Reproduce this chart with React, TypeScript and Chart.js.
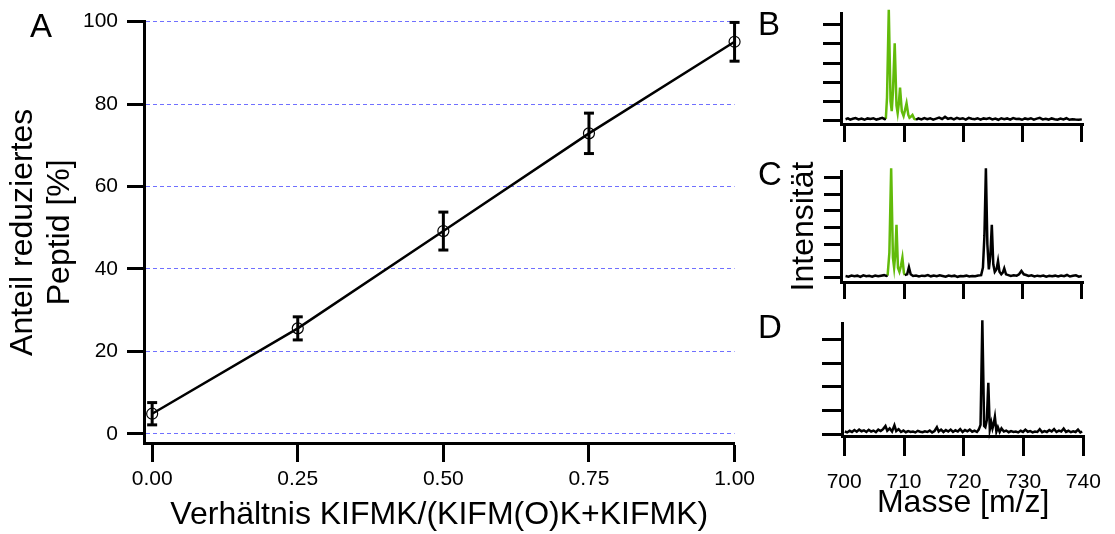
import React, { useEffect, useRef } from 'react';
import { Chart, registerables } from 'chart.js';

Chart.register(...registerables);

const FONT = "'Liberation Sans', Arial, Helvetica, sans-serif";
const GREEN = '#62bb0a';
const GRID_BLUE = '#7070ff';

// ---------- Panel A ----------
const RATIO = [0, 0.25, 0.5, 0.75, 1.0];
const REDUCED = [4.9, 25.6, 49.2, 72.9, 95.1];
const ERROR = [2.7, 2.8, 4.6, 4.9, 4.7];
const A_X_TICKS = [0, 0.25, 0.5, 0.75, 1.0];
const A_Y_TICKS = [0, 20, 40, 60, 80, 100];

// ---------- Spectra (m/z axis) ----------
const MZ_TICKS = [700, 710, 720, 730, 740];
const B_Y_TICKS = [0, 1, 2, 3, 4, 5];
const C_Y_TICKS = [0, 1, 2, 3, 4, 5, 6];
const D_Y_TICKS = [0, 1, 2, 3, 4];

// B: reduced peptide only
const B_BLACK1_MZ = [700.1, 700.5, 700.9, 701.3, 701.8, 702.3, 702.8, 703.3, 703.8, 704.3, 704.8, 705.3, 705.8, 706.3, 706.7, 706.9];
const B_BLACK1_INT = [0.08, 0.12, 0.06, 0.1, 0.14, 0.07, 0.11, 0.05, 0.12, 0.09, 0.13, 0.06, 0.1, 0.15, 0.08, 0.1];
const B_GREEN_MZ = [706.9, 707.1, 707.4, 707.7, 707.9, 708.1, 708.4, 708.7, 708.9, 709.1, 709.3, 709.6, 709.9, 710.1, 710.4, 710.7, 710.9, 711.1, 711.4, 711.7, 712.0];
const B_GREEN_INT = [0.1, 1.2, 5.77, 1.0, 0.5, 1.5, 4.03, 0.8, 0.4, 0.9, 1.72, 0.5, 0.25, 0.5, 0.91, 0.3, 0.15, 0.2, 0.3, 0.1, 0.05];
const B_BLACK2_MZ = [712.0, 712.4, 712.9, 713.4, 713.9, 714.4, 714.9, 715.4, 715.9, 716.4, 716.9, 717.4, 717.9, 718.4, 718.9, 719.4, 719.9, 720.4, 720.9, 721.4, 721.9, 722.4, 722.9, 723.4, 723.9, 724.4, 724.9, 725.4, 725.9, 726.4, 726.9, 727.4, 727.9, 728.4, 728.9, 729.4, 729.9, 730.4, 730.9, 731.4, 731.9, 732.4, 732.9, 733.4, 733.9, 734.4, 734.9, 735.4, 735.9, 736.4, 736.9, 737.4, 737.9, 738.4, 738.9, 739.5, 740.0];
const B_BLACK2_INT = [0.05, 0.12, 0.07, 0.14, 0.08, 0.13, 0.06, 0.11, 0.16, 0.09, 0.2, 0.1, 0.14, 0.07, 0.15, 0.09, 0.13, 0.06, 0.15, 0.1, 0.08, 0.13, 0.06, 0.12, 0.09, 0.14, 0.07, 0.11, 0.05, 0.13, 0.08, 0.12, 0.06, 0.14, 0.09, 0.1, 0.05, 0.12, 0.08, 0.13, 0.06, 0.11, 0.15, 0.07, 0.1, 0.06, 0.12, 0.08, 0.05, 0.11, 0.07, 0.13, 0.05, 0.08, 0.06, 0.05, 0.07];

// C: mixture
const C_BLACK1_MZ = [700.1, 700.6, 701.1, 701.6, 702.1, 702.6, 703.1, 703.6, 704.1, 704.6, 705.1, 705.6, 706.1, 706.6, 707.0, 707.2];
const C_BLACK1_INT = [0.1, 0.06, 0.13, 0.08, 0.12, 0.05, 0.14, 0.09, 0.11, 0.06, 0.13, 0.08, 0.12, 0.15, 0.1, 0.12];
const C_GREEN_MZ = [707.2, 707.5, 707.8, 708.1, 708.3, 708.5, 708.7, 708.95, 709.2, 709.45, 709.7, 709.95, 710.1];
const C_GREEN_INT = [0.12, 1.5, 6.55, 1.2, 0.6, 1.4, 3.16, 0.6, 0.35, 0.7, 1.2, 0.3, 0.15];
const C_BLACK2_MZ = [710.1, 710.5, 710.8, 711.1, 711.5, 712.0, 712.5, 713.0, 713.5, 714.0, 714.5, 715.0, 715.5, 716.0, 716.5, 717.0, 717.5, 718.0, 718.5, 719.0, 719.5, 720.0, 720.5, 721.0, 721.5, 722.0, 722.5, 723.0, 723.3, 723.55, 723.8, 724.05, 724.3, 724.55, 724.8, 725.05, 725.3, 725.6, 725.85, 726.1, 726.4, 726.65, 726.9, 727.2, 727.6, 728.0, 728.5, 729.0, 729.4, 729.8, 730.2, 730.6, 731.0, 731.5, 732.0, 732.5, 733.0, 733.5, 734.0, 734.5, 735.0, 735.5, 736.0, 736.5, 737.0, 737.5, 738.0, 738.5, 739.0, 739.5, 740.0];
const C_BLACK2_INT = [0.15, 0.2, 0.63, 0.2, 0.1, 0.13, 0.07, 0.12, 0.1, 0.15, 0.08, 0.13, 0.09, 0.14, 0.1, 0.06, 0.13, 0.08, 0.12, 0.05, 0.1, 0.08, 0.12, 0.07, 0.1, 0.09, 0.13, 0.15, 0.6, 2.5, 6.55, 2.0, 0.5, 1.3, 3.16, 0.8, 0.35, 0.5, 1.0, 0.35, 0.2, 0.3, 0.56, 0.2, 0.15, 0.1, 0.14, 0.12, 0.2, 0.4, 0.2, 0.16, 0.1, 0.14, 0.07, 0.12, 0.09, 0.13, 0.06, 0.11, 0.08, 0.12, 0.07, 0.13, 0.09, 0.16, 0.07, 0.11, 0.14, 0.06, 0.1];

// D: oxidised peptide only
const D_BLACK_MZ = [700.1, 700.5, 700.9, 701.3, 701.7, 702.1, 702.5, 702.9, 703.3, 703.7, 704.1, 704.5, 704.9, 705.3, 705.7, 706.1, 706.5, 706.9, 707.2, 707.6, 708.0, 708.4, 708.7, 709.1, 709.5, 709.9, 710.3, 710.7, 711.1, 711.5, 711.9, 712.3, 712.7, 713.1, 713.5, 713.9, 714.3, 714.7, 715.1, 715.5, 715.8, 716.2, 716.6, 717.0, 717.4, 717.8, 718.2, 718.6, 719.0, 719.4, 719.8, 720.2, 720.6, 721.0, 721.4, 721.8, 722.2, 722.5, 722.8, 723.1, 723.4, 723.6, 723.85, 724.1, 724.35, 724.6, 724.8, 725.0, 725.2, 725.45, 725.7, 726.0, 726.3, 726.7, 727.1, 727.5, 727.9, 728.3, 728.7, 729.1, 729.5, 729.9, 730.3, 730.7, 731.1, 731.5, 731.9, 732.3, 732.7, 733.1, 733.5, 733.9, 734.3, 734.7, 735.1, 735.5, 735.9, 736.3, 736.7, 737.1, 737.5, 737.9, 738.3, 738.7, 739.1, 739.5, 739.8];
const D_BLACK_INT = [0.12, 0.08, 0.15, 0.1, 0.18, 0.11, 0.2, 0.13, 0.17, 0.1, 0.19, 0.12, 0.16, 0.09, 0.2, 0.14, 0.22, 0.35, 0.15, 0.25, 0.12, 0.38, 0.14, 0.22, 0.1, 0.16, 0.09, 0.14, 0.1, 0.12, 0.08, 0.15, 0.11, 0.09, 0.13, 0.1, 0.16, 0.08, 0.14, 0.3, 0.12, 0.2, 0.1, 0.18, 0.12, 0.2, 0.1, 0.17, 0.12, 0.22, 0.1, 0.18, 0.13, 0.2, 0.11, 0.16, 0.1, 0.2, 0.4, 4.82, 0.35, 0.3, 0.6, 2.18, 0.2, 0.5, 0.25, 0.45, 0.74, 0.12, 0.3, 0.1, 0.25, 0.12, 0.16, 0.09, 0.14, 0.1, 0.12, 0.08, 0.15, 0.1, 0.2, 0.11, 0.14, 0.08, 0.12, 0.1, 0.22, 0.09, 0.14, 0.1, 0.18, 0.12, 0.22, 0.1, 0.16, 0.12, 0.24, 0.1, 0.15, 0.09, 0.13, 0.1, 0.2, 0.08, 0.12];

const pts = (xs: number[], ys: number[]) => xs.map((x, i) => ({ x, y: ys[i] }));
const fixTicks = (vals: number[]) => (s: any) => {
  s.ticks = vals.map((v) => ({ value: v }));
};

function mainConfig(): any {
  const errorSets = RATIO.map((r, i) => ({
    type: 'line',
    data: [
      { x: r, y: REDUCED[i] - ERROR[i] },
      { x: r, y: REDUCED[i] + ERROR[i] },
    ],
    borderColor: '#000',
    borderWidth: 3,
    pointStyle: 'line',
    pointRadius: 5,
    pointBorderWidth: 3,
    pointBorderColor: '#000',
    clip: false,
  }));
  return {
    type: 'line',
    data: {
      datasets: [
        {
          data: pts(RATIO, REDUCED),
          borderColor: '#000',
          borderWidth: 2.5,
          pointStyle: 'circle',
          pointRadius: 5.5,
          pointBorderWidth: 1.2,
          pointBorderColor: '#000',
          pointBackgroundColor: 'rgba(0,0,0,0)',
          clip: false,
        },
        ...errorSets,
      ],
    },
    options: {
      animation: false,
      responsive: false,
      events: [],
      layout: { padding: { top: 19, right: 22, left: 0, bottom: 0 } },
      plugins: { legend: { display: false }, tooltip: { enabled: false } },
      scales: {
        x: {
          type: 'linear',
          min: -0.014,
          max: 1.0,
          afterBuildTicks: fixTicks(A_X_TICKS),
          afterFit: (s: any) => { s.height = 91; },
          ticks: {
            callback: (v: any) => Number(v).toFixed(2),
            font: { family: FONT, size: 21 },
            color: '#000',
            padding: 5,
            maxRotation: 0,
            autoSkip: false,
          },
          grid: { drawOnChartArea: false, tickLength: 19, tickColor: '#000', tickWidth: 3 },
          border: { color: '#000', width: 3 },
          title: {
            display: true,
            text: 'Verhältnis KIFMK/(KIFM(O)K+KIFMK)',
            font: { family: FONT, size: 32 },
            color: '#000',
            padding: { top: 0, bottom: 0 },
          },
        },
        y: {
          type: 'linear',
          min: -2.2,
          max: 100,
          afterBuildTicks: fixTicks(A_Y_TICKS),
          afterFit: (s: any) => { s.width = 144; },
          ticks: { font: { family: FONT, size: 21 }, color: '#000', padding: 9 },
          grid: {
            color: GRID_BLUE,
            lineWidth: 1,
            tickLength: 17,
            tickColor: '#000',
            tickWidth: 3,
            tickBorderDash: [],
          },
          border: { color: '#000', width: 3, dash: [4, 3] },
          title: {
            display: true,
            text: ['Anteil reduziertes', 'Peptid [%]'],
            font: { family: FONT, size: 32, lineHeight: 1.15 },
            color: '#000',
            padding: { top: 5, bottom: 0 },
          },
        },
      },
    },
  };
}

type Trace = { xs: number[]; ys: number[]; color: string };

function specConfig(o: {
  traces: Trace[];
  xMin: number; xMax: number; yMin: number; yMax: number;
  yTicks: number[]; padTop: number; padRight: number;
  yWidth: number; xHeight: number; tickLen: number;
  showLabels: boolean; labelPad: number;
  xTitle?: string; xTitlePad?: number;
  yTitle?: string; yTitlePad?: number;
}): any {
  return {
    type: 'line',
    data: {
      datasets: o.traces.map((t) => ({
        data: pts(t.xs, t.ys),
        borderColor: t.color,
        borderWidth: 2.5,
        pointRadius: 0,
        clip: false,
      })),
    },
    options: {
      animation: false,
      responsive: false,
      events: [],
      layout: { padding: { top: o.padTop, right: o.padRight, left: 0, bottom: 0 } },
      plugins: { legend: { display: false }, tooltip: { enabled: false } },
      scales: {
        x: {
          type: 'linear',
          min: o.xMin,
          max: o.xMax,
          afterBuildTicks: fixTicks(MZ_TICKS),
          afterFit: (s: any) => { s.height = o.xHeight; },
          ticks: {
            display: o.showLabels,
            callback: (v: any) => String(v),
            font: { family: FONT, size: 21 },
            color: '#000',
            padding: o.labelPad,
            maxRotation: 0,
            autoSkip: false,
          },
          grid: { drawOnChartArea: false, tickLength: o.tickLen, tickColor: '#000', tickWidth: 3 },
          border: { color: '#000', width: 3 },
          title: {
            display: !!o.xTitle,
            text: o.xTitle || '',
            font: { family: FONT, size: 32 },
            color: '#000',
            padding: { top: 0, bottom: o.xTitlePad || 0 },
          },
        },
        y: {
          type: 'linear',
          min: o.yMin,
          max: o.yMax,
          afterBuildTicks: fixTicks(o.yTicks),
          afterFit: (s: any) => { s.width = o.yWidth; },
          ticks: { display: false },
          grid: { drawOnChartArea: false, tickLength: o.tickLen, tickColor: '#000', tickWidth: 3 },
          border: { color: '#000', width: 3 },
          title: {
            display: !!o.yTitle,
            text: o.yTitle || '',
            font: { family: FONT, size: 32 },
            color: '#000',
            padding: { top: o.yTitlePad || 0, bottom: 0 },
          },
        },
      },
    },
  };
}

const letterStyle = (left: number, top: number): React.CSSProperties => ({
  position: 'absolute',
  left,
  top,
  fontFamily: FONT,
  fontSize: 33,
  lineHeight: '33px',
  color: '#000',
});

export default function App() {
  const aRef = useRef<HTMLCanvasElement>(null);
  const bRef = useRef<HTMLCanvasElement>(null);
  const cRef = useRef<HTMLCanvasElement>(null);
  const dRef = useRef<HTMLCanvasElement>(null);

  useEffect(() => {
    Chart.defaults.font.family = FONT;
    Chart.defaults.color = '#000';
    const charts: Chart[] = [];
    charts.push(new Chart(aRef.current!, mainConfig()));
    charts.push(
      new Chart(
        bRef.current!,
        specConfig({
          traces: [
            { xs: B_BLACK1_MZ, ys: B_BLACK1_INT, color: '#000' },
            { xs: B_BLACK2_MZ, ys: B_BLACK2_INT, color: '#000' },
            { xs: B_GREEN_MZ, ys: B_GREEN_INT, color: GREEN },
          ],
          xMin: 699.33, xMax: 740.2, yMin: -0.17, yMax: 5.6,
          yTicks: B_Y_TICKS, padTop: 13, padRight: 32,
          yWidth: 81, xHeight: 26, tickLen: 18,
          showLabels: false, labelPad: 0,
        })
      )
    );
    charts.push(
      new Chart(
        cRef.current!,
        specConfig({
          traces: [
            { xs: C_BLACK1_MZ, ys: C_BLACK1_INT, color: '#000' },
            { xs: C_BLACK2_MZ, ys: C_BLACK2_INT, color: '#000' },
            { xs: C_GREEN_MZ, ys: C_GREEN_INT, color: GREEN },
          ],
          xMin: 699.33, xMax: 740.2, yMin: -0.26, yMax: 6.39,
          yTicks: C_Y_TICKS, padTop: 21, padRight: 32,
          yWidth: 81, xHeight: 18, tickLen: 17,
          showLabels: false, labelPad: 0,
          yTitle: 'Intensität', yTitlePad: 25,
        })
      )
    );
    charts.push(
      new Chart(
        dRef.current!,
        specConfig({
          traces: [{ xs: D_BLACK_MZ, ys: D_BLACK_INT, color: '#000' }],
          xMin: 699.63, xMax: 740.16, yMin: -0.07, yMax: 4.7,
          yTicks: D_Y_TICKS, padTop: 23, padRight: 24,
          yWidth: 82, xHeight: 98, tickLen: 20,
          showLabels: true, labelPad: 14,
          xTitle: 'Masse [m/z]', xTitlePad: 12,
        })
      )
    );
    return () => charts.forEach((c) => c.destroy());
  }, []);

  return (
    <div style={{ position: 'fixed', left: 0, top: 0, width: 1115, height: 534, background: '#fff', overflow: 'hidden' }}>
      <canvas ref={aRef} width={760} height={534} style={{ position: 'absolute', left: 0, top: 0, width: 760, height: 534 }} />
      <canvas ref={bRef} width={355} height={150} style={{ position: 'absolute', left: 760, top: 0, width: 355, height: 150 }} />
      <canvas ref={cRef} width={355} height={150} style={{ position: 'absolute', left: 760, top: 150, width: 355, height: 150 }} />
      <canvas ref={dRef} width={355} height={234} style={{ position: 'absolute', left: 760, top: 300, width: 355, height: 234 }} />
      <div style={letterStyle(30, 9)}>A</div>
      <div style={letterStyle(758, 7)}>B</div>
      <div style={letterStyle(758, 157)}>C</div>
      <div style={letterStyle(758, 310)}>D</div>
    </div>
  );
}
